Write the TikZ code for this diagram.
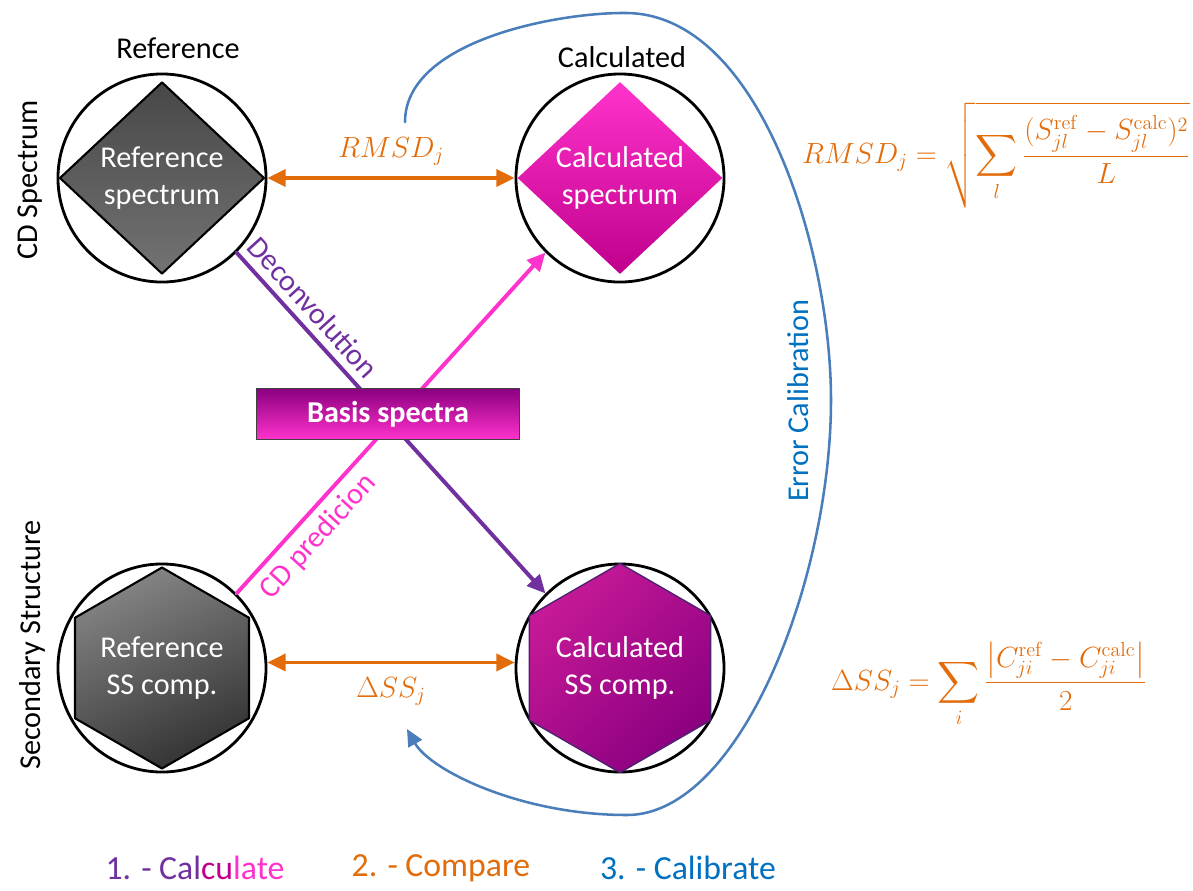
\documentclass[tikz,border=0pt]{standalone}
\usepackage{amsmath}
\usepackage{exscale}
\usepackage[no-math]{fontspec}
\setmainfont{Carlito}
\usetikzlibrary{arrows.meta,shapes.geometric}
\definecolor{ccpurple}{HTML}{7030A0}
\definecolor{ccpink}{HTML}{FF33CC}
\definecolor{ccmag}{HTML}{C0008C}
\definecolor{ccdeep}{HTML}{8B0080}
\definecolor{ccorange}{HTML}{E36C0A}
\definecolor{ccline}{HTML}{4A7EBB}
\definecolor{cctext}{HTML}{0070C0}
\begin{document}
\begin{tikzpicture}[x=0.025cm,y=-0.025cm,line cap=round,line join=round,
  every node/.style={font=\fontsize{21.5}{26}\selectfont},
  ring/.style={circle,draw=black,line width=2pt,minimum size=5.2cm,inner sep=0pt},
  spec/.style={diamond,minimum width=5.12cm,minimum height=4.8cm,inner sep=0pt,
    text=white,align=center},
  ssbox/.style={regular polygon,regular polygon sides=6,shape border rotate=30,
    minimum size=4.75cm,inner sep=0pt,text=white,align=center},
  tip/.style={-{Triangle[length=13pt,width=12pt]}},
  both/.style={{Triangle[length=13pt,width=12pt]}-{Triangle[length=13pt,width=12pt]}},
  eqn/.style={text=ccorange}]
  \useasboundingbox (0,0) rectangle (1193,890);
  % four circles: spectrum on top, secondary structure below
  \node[ring] (refc) at (162,178) {};
  \node[ring] (calc) at (620,178) {};
  \node[ring] (refsc) at (162,668) {};
  \node[ring] (calsc) at (620,668) {};
  \node[spec,draw=black,line width=1.5pt,top color=black!72,bottom color=black!55]
    (refspec) at (162,178) {Reference\\spectrum};
  \node[spec,top color=ccpink,middle color=ccmag!92!ccpink,bottom color=ccmag]
    (calspec) at (620,178) {Calculated\\spectrum};
  \node[ssbox,draw=black,line width=1.5pt,top color=black!48,bottom color=black!80,
    shading angle=25] (refss) at (162,668) {Reference\\SS comp.};
  \node[ssbox,draw=ccpurple!70!black,line width=1pt,top color=ccmag!90!white,
    middle color=ccpurple!75!blue,bottom color=ccdeep,shading angle=45]
    (calss) at (620,668) {Calculated\\SS comp.};
  % titles
  \node (lblref) at (178,48) {Reference};
  \node (lblcalc) at (622,57) {Calculated};
  \node[rotate=90] (lblcd) at (30,180) {CD Spectrum};
  \node[rotate=90] (lblss) at (32,645) {Secondary Structure};
  % compare arrows
  \draw[both,ccorange,line width=2.8pt] (refc.east) -- (calc.west)
    node[midway,above=4pt,text=ccorange] (lblrmsd) {$RMSD_j$};
  \draw[both,ccorange,line width=2.8pt] (refsc.3) -- (calsc.177)
    node[midway,below=6pt,text=ccorange] (lbldss) {$\Delta SS_j$};
  % calculate arrows, crossing behind the basis box
  \draw[tip,ccpurple,line width=2.8pt] (refc.-45) -- (calsc.135)
    node[pos=0.2,above=2pt,sloped,text=ccpurple] {Deconvolution};
  \draw[tip,ccpink,line width=2.8pt] (refsc.45) -- (calc.-135)
    node[pos=0.21,below=2pt,sloped,text=ccpink] {CD predicion};
  \node[rectangle,draw=black!75,line width=0.8pt,minimum width=6.575cm,
    minimum height=1.275cm,top color=ccdeep,middle color=ccmag,
    bottom color=ccpink,text=white,font=\fontsize{21.5}{26}\selectfont\bfseries]
    (basis) at (388,414) {Basis spectra};
  % calibrate loop
  \coordinate (errstart) at (405,122);
  \coordinate (errend) at (407,729);
  \draw[-{Triangle[length=12pt,width=11pt]},ccline,line width=1.8pt] (errstart)
    .. controls (405,40) and (560,12) .. (627,13)
    .. controls (760,15) and (831,250) .. (831,400)
    .. controls (831,580) and (740,815) .. (627,815)
    .. controls (520,815) and (430,770) .. (errend);
  \node[rotate=90,text=cctext] (lblerr) at (798,401) {Error Calibration};
  % formulas
  \node[eqn] (eqrmsd) at (996,155)
    {$\displaystyle RMSD_j=\sqrt{\sum_l\frac{(S_{jl}^{\mathrm{ref}}-S_{jl}^{\mathrm{calc}})^2}{L}}$};
  \node[eqn] (eqdss) at (989,685)
    {$\displaystyle \Delta SS_j=\sum_i\frac{\left|C_{ji}^{\mathrm{ref}}-C_{ji}^{\mathrm{calc}}\right|}{2}$};
  % legend
  \node[font=\fontsize{24}{28}\selectfont] (leg1) at (195,868)
    {\color{ccpurple}1. - Cal\color{ccmag}cu\color{ccpink}late};
  \node[font=\fontsize{24}{28}\selectfont,text=ccorange] (leg2) at (441,868) {2. - Compare};
  \node[font=\fontsize{24}{28}\selectfont,text=cctext] (leg3) at (688,868) {3. - Calibrate};
\end{tikzpicture}
\end{document}
